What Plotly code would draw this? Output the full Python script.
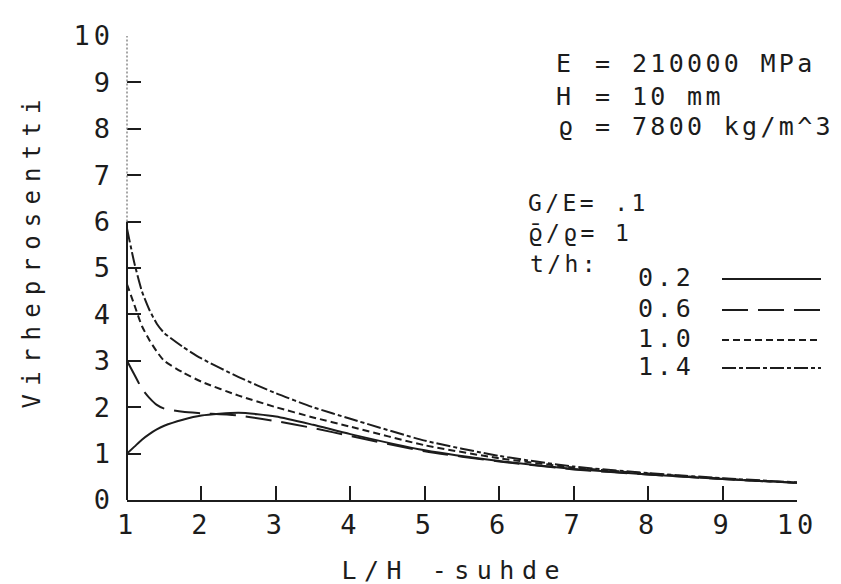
import plotly.graph_objects as go

# ---- data ----
x_vals = [1, 1.1, 1.2, 1.3, 1.4, 1.5, 1.75, 2, 2.5, 3, 3.5, 4, 5, 6, 7, 8, 9, 10]
y_02 = [1.0, 1.15, 1.3, 1.42, 1.52, 1.6, 1.73, 1.82, 1.88, 1.8, 1.62, 1.42, 1.07, 0.84, 0.67, 0.55, 0.45, 0.37]
y_06 = [3.0, 2.7, 2.4, 2.2, 2.05, 1.97, 1.9, 1.87, 1.82, 1.7, 1.55, 1.38, 1.05, 0.83, 0.66, 0.55, 0.45, 0.37]
y_10 = [4.65, 4.2, 3.75, 3.45, 3.2, 3.0, 2.75, 2.55, 2.25, 2.0, 1.78, 1.58, 1.18, 0.9, 0.7, 0.57, 0.46, 0.37]
y_14 = [5.85, 5.1, 4.5, 4.1, 3.8, 3.6, 3.3, 3.05, 2.65, 2.3, 2.0, 1.75, 1.28, 0.95, 0.72, 0.58, 0.47, 0.38]
series_labels = ["0.2", "0.6", "1.0", "1.4"]
x_ticks = list(range(1, 11))
y_ticks = list(range(0, 11))

FONT = "DejaVu Sans Mono"
INK = "#1c1c1c"
dashes = ["solid", "26px,10px", "7px,4px", "14px,3px,4px,3px"]

fig = go.Figure()
for ys, lab, d in zip([y_02, y_06, y_10, y_14], series_labels, dashes):
    fig.add_trace(go.Scatter(x=x_vals, y=ys, mode="lines", name=lab,
                             line=dict(color=INK, width=2, dash=d, shape="spline", smoothing=0.6),
                             showlegend=False))

L, R, T, B = 119, 52, 28, 92
W, H = 841, 584
pw, ph = W - L - R, H - T - B

def px(xp):
    return (xp - L) / pw

def py(yp):
    return (H - B - yp) / ph

ann = []
def text(s, xp, yp, size=25):
    ann.append(dict(text=s, x=px(xp), y=py(yp), xref="paper", yref="paper",
                    xanchor="left", yanchor="middle", align="left", showarrow=False,
                    font=dict(family=FONT, size=size, color=INK)))

# parameter block
text("E", 546, 56); text("=", 585, 56); text("210000 MPa", 622, 56)
text("H", 546, 88); text("=", 585, 88); text("10 mm", 622, 88)
text("ϱ", 548, 119); text("=", 585, 119); text("7800 kg/m^3", 622, 119)
text("G/E= .1", 518, 195, size=23)
text('<span style="font-family:DejaVu Sans">ϱ̄</span>/ϱ= 1', 518, 225, size=23)
text("t/h:", 520, 256, size=23)

leg_y = [269, 300, 330, 358]
for lab, yy in zip(series_labels, leg_y):
    text(lab, 628, yy, size=25)

shapes = []
for d, yy in zip(dashes, leg_y):
    shapes.append(dict(type="line", xref="paper", yref="paper",
                       x0=px(714), x1=px(813), y0=py(yy + 2), y1=py(yy + 2),
                       line=dict(color=INK, width=2, dash=d)))

# y axis line: solid in the lower part, faint dotted above (as in the copy)
shapes.append(dict(type="line", xref="paper", yref="y", x0=0, x1=0, y0=0, y1=6,
                   line=dict(color=INK, width=2)))
shapes.append(dict(type="line", xref="paper", yref="y", x0=0, x1=0, y0=6, y1=10.4,
                   line=dict(color="#8a8a8a", width=1.5, dash="2px,2px")))

# axis titles
ann.append(dict(text="Virheprosentti", x=px(24), y=py(242), xref="paper", yref="paper",
                textangle=-90, showarrow=False, xanchor="center", yanchor="middle",
                font=dict(family=FONT, size=24, color=INK)))
ann.append(dict(text="L/H -suhde", x=px(446), y=py(562), xref="paper", yref="paper",
                showarrow=False, xanchor="center", yanchor="middle",
                font=dict(family=FONT, size=25, color=INK)))

fig.update_layout(
    width=W, height=H,
    margin=dict(l=L, r=R, t=T, b=B),
    paper_bgcolor="white", plot_bgcolor="white",
    annotations=ann, shapes=shapes,
    xaxis=dict(range=[1, 10], tickvals=x_ticks, ticktext=[str(v) for v in x_ticks],
               ticks="inside", ticklen=14, tickwidth=2, tickcolor=INK,
               showline=True, linecolor=INK, linewidth=2, showgrid=False, zeroline=False,
               tickfont=dict(family=FONT, size=27, color=INK), ticklabelstandoff=0),
    yaxis=dict(range=[0, 10], tickvals=y_ticks, ticktext=[str(v) for v in y_ticks],
               ticks="inside", ticklen=14, tickwidth=2, tickcolor=INK,
               showline=False, showgrid=False, zeroline=False,
               tickfont=dict(family=FONT, size=27, color=INK), ticklabelstandoff=12),
)

# plotter-style wide letter spacing applied to the rendered SVG text
post_js = """
var gd = document.getElementById('{plot_id}');
function spaceText(){
  gd.querySelectorAll('text').forEach(function(t){
    var s = parseFloat(window.getComputedStyle(t).fontSize) || 20;
    var txt = t.textContent || '';
    var k = 0.15;
    if (txt.indexOf('Virheprosentti') >= 0) k = 0.34;
    if (txt.indexOf('L/H') >= 0) k = 0.30;
    if (txt.indexOf('kg/m') >= 0 || txt.indexOf('MPa') >= 0 || txt.indexOf('mm') >= 0) k = 0.13;
    t.style.letterSpacing = (s * k).toFixed(1) + 'px';
  });
}
spaceText();
gd.on('plotly_afterplot', spaceText);
"""

fig.write_html("out.html", post_script=post_js)
